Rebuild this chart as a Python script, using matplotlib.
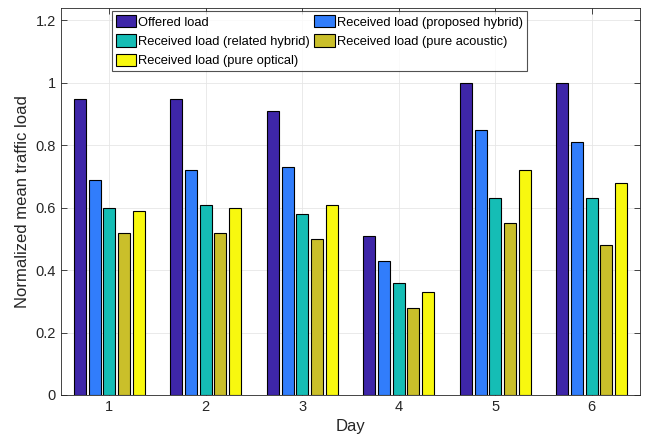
import numpy as np
import matplotlib
matplotlib.use("Agg")
import matplotlib.pyplot as plt

plt.rcParams['font.family'] = ['Liberation Sans', 'DejaVu Sans']

days = [1, 2, 3, 4, 5, 6]
offered = [0.95, 0.95, 0.91, 0.51, 1.00, 1.00]
proposed = [0.69, 0.72, 0.73, 0.43, 0.85, 0.81]
related = [0.60, 0.61, 0.58, 0.36, 0.63, 0.63]
acoustic = [0.52, 0.52, 0.50, 0.28, 0.55, 0.48]
optical = [0.59, 0.60, 0.61, 0.33, 0.72, 0.68]

labels = ['Offered load', 'Received load (proposed hybrid)',
          'Received load (related hybrid)', 'Received load (pure acoustic)',
          'Received load (pure optical)']
colors = ['#3E26A8', '#317DFB', '#15BDB5', '#CABF2A', '#F8F80F']
series = [offered, proposed, related, acoustic, optical]

fig = plt.figure(figsize=(6.46, 4.45), dpi=100)
ax = fig.add_axes([0.0944, 0.1124, 0.8963, 0.8696])

x = np.array(days)
w = 0.125
step = 0.152
bars = []
for i, (vals, c, lab) in enumerate(zip(series, colors, labels)):
    b = ax.bar(x + (i - 2) * step, vals, w, color=c, edgecolor='black',
               linewidth=0.8, label=lab, zorder=3)
    bars.append(b)

ax.set_xlim(0.5, 6.5)
ax.set_ylim(0, 1.24)
ax.set_xticks(days)
ax.set_yticks([0, 0.2, 0.4, 0.6, 0.8, 1.0, 1.2])
ax.set_yticklabels(['0', '0.2', '0.4', '0.6', '0.8', '1', '1.2'])
ax.tick_params(direction='in', top=True, right=True, labelsize=10.5,
               length=4, width=0.6, colors='#262626')
ax.grid(True, color='#e6e6e6', linewidth=0.6, zorder=0)
for s in ax.spines.values():
    s.set_color('#262626')
    s.set_linewidth(0.6)

ax.set_xlabel('Day', fontsize=12, color='#262626')
ax.set_ylabel('Normalized mean traffic load', fontsize=12, color='#262626')

# row-wise legend order like MATLAB
order = [0, 2, 4, 1, 3]
leg = ax.legend([bars[i] for i in order], [labels[i] for i in order],
                loc='upper left', bbox_to_anchor=(0.088, 0.992), ncol=2,
                fontsize=9.3, frameon=True, fancybox=False, edgecolor='#262626',
                handlelength=1.6, handleheight=1.1, handletextpad=0.15,
                columnspacing=0.3, labelspacing=0.45, borderpad=0.3,
                borderaxespad=0)
leg.get_frame().set_linewidth(0.8)

fig.savefig('out.png', dpi=100)
